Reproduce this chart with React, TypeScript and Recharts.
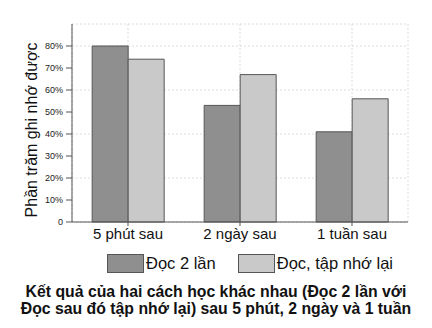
import { BarChart, Bar, XAxis, YAxis, CartesianGrid } from 'recharts';

const categories = ['5 phút sau', '2 ngày sau', '1 tuần sau'];
const docHaiLan = [80, 53, 41];
const docTapNho = [74, 67, 56];
const yTicks = [0, 10, 20, 30, 40, 50, 60, 70, 80];

const DARK = '#8f8f8f';
const LIGHT = '#c9c9c9';
const EDGE = '#555555';
const FONT = '"Liberation Sans", Arial, sans-serif';

const data = categories.map((name, i) => ({ name, a: docHaiLan[i], b: docTapNho[i] }));

const series = [
    { key: 'a', label: 'Đọc 2 lần', fill: DARK },
    { key: 'b', label: 'Đọc, tập nhớ lại', fill: LIGHT },
];

export default function App() {
    return (
        <div style={{ position: 'absolute', left: 0, top: 0, width: 432, height: 328, background: '#fff', fontFamily: FONT }}>
            <BarChart
                width={432}
                height={328}
                data={data}
                margin={{ top: 24, right: 24, bottom: 0, left: 0 }}
                barCategoryGap="18%"
                barGap={0}
            >
                <CartesianGrid stroke="#dcdcdc" strokeDasharray="2 2" />
                <XAxis
                    dataKey="name"
                    height={106}
                    stroke="#555"
                    tickSize={4}
                    tickMargin={2}
                    tick={{ fill: '#111', fontSize: 15, fontFamily: FONT }}
                    interval={0}
                />
                <XAxis xAxisId="top" orientation="top" dataKey="name" height={0} tick={false} tickLine={false} stroke="#555" />
                <YAxis
                    width={72}
                    domain={[0, 90]}
                    ticks={yTicks}
                    stroke="#555"
                    tickSize={6}
                    tickMargin={3}
                    tick={{ fill: '#222', fontSize: 9, fontFamily: FONT }}
                    tickFormatter={(v: number) => (v === 0 ? '0' : `${v}%`)}
                    label={{
                        content: () => (
                            <text
                                x={31}
                                y={130}
                                transform="rotate(-90 31 130)"
                                textAnchor="middle"
                                dominantBaseline="central"
                                fontSize={16}
                                fontFamily={FONT}
                                fill="#111"
                            >
                                Phần trăm ghi nhớ được
                            </text>
                        ),
                    }}
                />
                <YAxis yAxisId="right" orientation="right" width={0} domain={[0, 90]} tick={false} tickLine={false} stroke="#555" />
                {series.map((s) => (
                    <Bar key={s.key} dataKey={s.key} fill={s.fill} stroke={EDGE} strokeWidth={1} isAnimationActive={false} />
                ))}
            </BarChart>
            <div style={{ position: 'absolute', top: 254, left: 107, display: 'flex', alignItems: 'center', fontSize: 16.5, color: '#111' }}>
                {series.map((s, i) => (
                    <div key={s.key} style={{ display: 'flex', alignItems: 'center', marginRight: i === 0 ? 22 : 0 }}>
                        <span style={{ display: 'inline-block', width: 35, height: 17, background: s.fill, border: `1px solid ${EDGE}`, marginRight: 2 }} />
                        <span>{s.label}</span>
                    </div>
                ))}
            </div>
            <div
                style={{
                    position: 'absolute',
                    top: 283,
                    left: 0,
                    width: 432,
                    textAlign: 'center',
                    fontWeight: 'bold',
                    fontSize: 15.8,
                    lineHeight: '17px',
                    color: '#111',
                }}
            >
                Kết quả của hai cách học khác nhau (Đọc 2 lần với
                <br />
                Đọc sau đó tập nhớ lại) sau 5 phút, 2 ngày và 1 tuần
            </div>
        </div>
    );
}
